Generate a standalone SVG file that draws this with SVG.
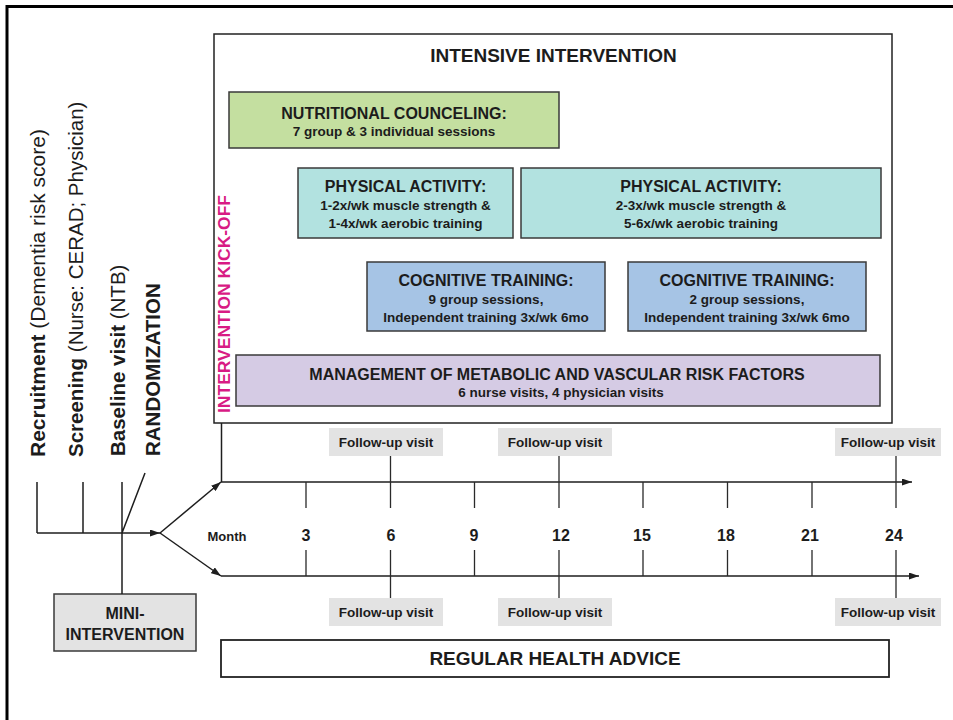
<svg xmlns="http://www.w3.org/2000/svg" width="953" height="720" viewBox="0 0 953 720">
<style>
text{font-family:"Liberation Sans",Arial,sans-serif;fill:#1c1c1c}
.b{font-weight:bold}
.t16{font-size:16px;font-weight:bold;text-anchor:middle}
.t13{font-size:13.5px;font-weight:bold;text-anchor:middle}
.box{stroke:#3a3a3a;stroke-width:1.5}
.ln{stroke:#1e1e1e;stroke-width:1.5;fill:none}
.tk{stroke:#2a2a2a;stroke-width:1.3;fill:none}
.fu{fill:#e3e3e3}
.num{font-size:16px;font-weight:bold;text-anchor:middle}
.side{font-size:20.5px}
</style>
<defs>
<marker id="ah" viewBox="0 0 10 7" refX="10" refY="3.5" markerWidth="10" markerHeight="7" markerUnits="userSpaceOnUse" orient="auto">
<path d="M0,0 L10,3.5 L0,7 z" fill="#1e1e1e"/>
</marker>
</defs>
<rect width="953" height="720" fill="#ffffff"/>
<path d="M7,720 V6.5 H953" fill="none" stroke="#000" stroke-width="3"/>

<g id="side-labels">
<text class="side" style="font-size:21px" transform="translate(45,457) rotate(-90)"><tspan class="b">Recruitment </tspan><tspan>(Dementia risk score)</tspan></text>
<text class="side" transform="translate(83,457) rotate(-90)"><tspan class="b">Screening </tspan><tspan>(Nurse: CERAD; Physician)</tspan></text>
<text class="side" transform="translate(124.5,456) rotate(-90)"><tspan class="b">Baseline visit </tspan><tspan>(NTB)</tspan></text>
<text class="side b" transform="translate(160,456) rotate(-90)">RANDOMIZATION</text>
</g>

<g id="intensive">
<rect x="214" y="34" width="678" height="389" fill="#ffffff" stroke="#222" stroke-width="1.5"/>
<text x="553.5" y="62" font-size="19" font-weight="bold" text-anchor="middle">INTENSIVE INTERVENTION</text>
<text transform="translate(230,413) rotate(-90)" font-size="17" font-weight="bold" style="fill:#d81b84" textLength="218" lengthAdjust="spacingAndGlyphs">INTERVENTION KICK-OFF</text>
</g>

<g id="nutrition">
<rect class="box" x="229" y="92" width="330" height="56" fill="#c4dfa0"/>
<text class="t16" x="394" y="119">NUTRITIONAL COUNCELING:</text>
<text class="t13" x="394" y="136">7 group &amp; 3 individual sessions</text>
</g>

<g id="physical1">
<rect class="box" x="298" y="168" width="215" height="70" fill="#b2e2e0"/>
<text class="t16" x="405.5" y="192">PHYSICAL ACTIVITY:</text>
<text class="t13" x="405.5" y="210">1-2x/wk muscle strength &amp;</text>
<text class="t13" x="405.5" y="228">1-4x/wk aerobic training</text>
</g>

<g id="physical2">
<rect class="box" x="521" y="168" width="360" height="70" fill="#b2e2e0"/>
<text class="t16" x="701" y="192">PHYSICAL ACTIVITY:</text>
<text class="t13" x="701" y="210">2-3x/wk muscle strength &amp;</text>
<text class="t13" x="701" y="228">5-6x/wk aerobic training</text>
</g>

<g id="cognitive1">
<rect class="box" x="367" y="262" width="238" height="69" fill="#a6c4e5"/>
<text class="t16" x="486" y="286">COGNITIVE TRAINING:</text>
<text class="t13" x="486" y="304">9 group sessions,</text>
<text class="t13" x="486" y="322">Independent training 3x/wk 6mo</text>
</g>

<g id="cognitive2">
<rect class="box" x="628" y="262" width="238" height="69" fill="#a6c4e5"/>
<text class="t16" x="747" y="286">COGNITIVE TRAINING:</text>
<text class="t13" x="747" y="304">2 group sessions,</text>
<text class="t13" x="747" y="322">Independent training 3x/wk 6mo</text>
</g>

<g id="management">
<rect class="box" x="236" y="355" width="644" height="51" fill="#d5cbe4"/>
<text class="t16" x="557" y="380">MANAGEMENT OF METABOLIC AND VASCULAR RISK FACTORS</text>
<text class="t13" x="561" y="397">6 nurse visits, 4 physician visits</text>
</g>

<g id="mini-intervention">
<rect class="box" x="54" y="594" width="142" height="57" fill="#e3e3e3"/>
<text class="t16" x="125" y="619">MINI-</text>
<text class="t16" x="125" y="640">INTERVENTION</text>
</g>

<g id="regular-health-advice">
<rect x="221" y="640" width="668" height="37" fill="#ffffff" stroke="#222" stroke-width="1.8"/>
<text x="555" y="665" font-size="19" font-weight="bold" text-anchor="middle">REGULAR HEALTH ADVICE</text>
</g>

<g id="followups">
<rect class="fu" x="329" y="428" width="114" height="28"/>
<text class="t13" x="386" y="447">Follow-up visit</text>
<rect class="fu" x="498" y="428" width="114" height="28"/>
<text class="t13" x="555" y="447">Follow-up visit</text>
<rect class="fu" x="835" y="428" width="106" height="28"/>
<text class="t13" x="888" y="447">Follow-up visit</text>
<rect class="fu" x="329" y="598" width="114" height="28"/>
<text class="t13" x="386" y="617">Follow-up visit</text>
<rect class="fu" x="498" y="598" width="114" height="28"/>
<text class="t13" x="555" y="617">Follow-up visit</text>
<rect class="fu" x="835" y="598" width="106" height="28"/>
<text class="t13" x="888" y="617">Follow-up visit</text>
</g>

<g id="months">
<text x="227" y="541" font-size="13" font-weight="bold" text-anchor="middle">Month</text>
<text class="num" x="306" y="541">3</text>
<text class="num" x="391" y="541">6</text>
<text class="num" x="474" y="541">9</text>
<text class="num" x="561" y="541">12</text>
<text class="num" x="642" y="541">15</text>
<text class="num" x="726" y="541">18</text>
<text class="num" x="810" y="541">21</text>
<text class="num" x="894" y="541">24</text>
</g>

<g id="connectors">
<path class="ln" d="M37,482 V533 M83,482 V533 M122,482 V594 M122,533 L145,473"/>
<path class="ln" d="M37,533 H160" marker-end="url(#ah)"/>
<path class="ln" d="M160,533 L221,482" marker-end="url(#ah)"/>
<path class="ln" d="M160,533 L221,576" marker-end="url(#ah)"/>
<path class="ln" d="M221.5,423 V482"/>
<path class="ln" d="M221,482 H912" marker-end="url(#ah)"/>
<path class="ln" d="M221,576 H919" marker-end="url(#ah)"/>
<path class="tk" d="M306,482 V508 M474.5,482 V508 M643,482 V508 M727.5,482 V508 M812,482 V508"/>
<path class="tk" d="M390.5,456 V508 M559,456 V508 M896,456 V508"/>
<path class="tk" d="M306,550 V576 M474.5,550 V576 M643,550 V576 M727.5,550 V576 M812,550 V576"/>
<path class="tk" d="M390.5,550 V598 M559,550 V598 M896,550 V598"/>
</g>
</svg>
